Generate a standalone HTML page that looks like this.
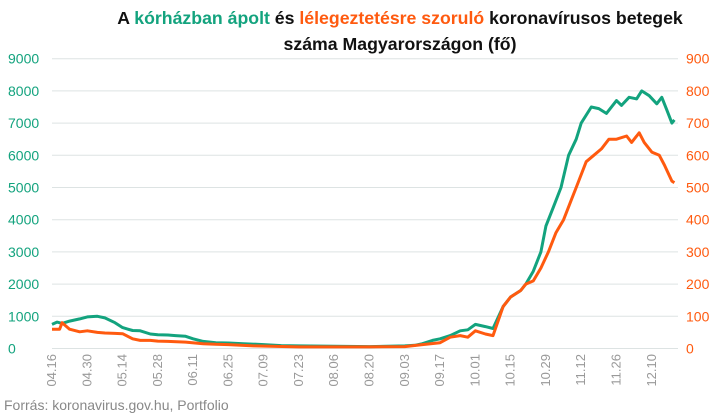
<!DOCTYPE html>
<html><head><meta charset="utf-8"><style>
body{margin:0;background:#fff;}
svg{display:block;font-family:"Liberation Sans Narrow","Liberation Sans",sans-serif;}
</style></head><body>
<svg id="chart" width="717" height="416" viewBox="0 0 717 416">
<text x="400" y="24" text-anchor="middle" font-size="17.7" font-weight="bold" fill="#111">A <tspan fill="#13a37e">kórházban ápolt</tspan> és <tspan fill="#ff5a0f">lélegeztetésre szoruló</tspan> koronavírusos betegek</text>
<text x="400" y="50" text-anchor="middle" font-size="17.7" font-weight="bold" fill="#111">száma Magyarországon  (fő)</text>
<g id="grid"></g><g id="series"></g><g id="axes"></g>
<text x="4" y="410" font-size="14" fill="#888">Forrás: koronavirus.gov.hu, Portfolio</text>
</svg>
<script>
const hospDates=["04.16","04.18","04.20","04.23","04.27","04.30","05.04","05.07","05.11","05.14","05.18","05.21","05.25","05.28","06.01","06.04","06.08","06.11","06.15","06.20","06.25","07.01","07.09","07.16","07.23","08.06","08.20","09.03","09.07","09.10","09.14","09.17","09.21","09.25","09.28","10.01","10.05","10.08","10.12","10.15","10.19","10.21","10.24","10.27","10.29","11.01","11.04","11.07","11.10","11.12","11.16","11.19","11.22","11.26","11.28","12.01","12.04","12.06","12.09","12.12","12.14","12.16","12.18","12.19"];
const hospValues=[750,820,780,850,920,980,1000,950,800,650,560,550,450,430,420,400,380,300,220,180,170,150,120,90,80,70,60,80,100,150,250,300,400,550,580,750,680,620,1300,1600,1800,2000,2400,3000,3800,4400,5000,6000,6500,7000,7500,7450,7300,7700,7550,7800,7750,8000,7850,7600,7800,7400,7000,7100];
const ventDates=["04.16","04.19","04.20","04.23","04.27","04.30","05.04","05.07","05.11","05.14","05.18","05.21","05.25","05.28","06.01","06.08","06.15","06.20","06.25","07.05","07.23","08.20","09.03","09.10","09.17","09.21","09.25","09.28","10.01","10.05","10.08","10.12","10.15","10.19","10.21","10.24","10.27","10.30","11.02","11.05","11.08","11.10","11.14","11.17","11.20","11.23","11.26","11.30","12.02","12.05","12.07","12.10","12.13","12.15","12.18","12.19"];
const ventValues=[60,60,80,60,52,55,50,48,47,46,30,25,25,23,22,20,15,13,12,8,5,5,6,12,18,35,40,35,55,45,40,130,160,180,200,210,250,300,360,400,460,500,580,600,620,650,650,660,640,670,640,610,600,570,520,515];
const leftTicks=[0,1000,2000,3000,4000,5000,6000,7000,8000,9000];
const rightTicks=[0,100,200,300,400,500,600,700,800,900];
const xTickLabels=["04.16","04.30","05.14","05.28","06.11","06.25","07.09","07.23","08.06","08.20","09.03","09.17","10.01","10.15","10.29","11.12","11.26","12.10"];

const NS="http://www.w3.org/2000/svg";
const X0=52,PXD=2.52,Y0=348.5,PX1000=32.2;
function day(s){const[m,d]=s.split(".").map(Number);return (Date.UTC(2020,m-1,d)-Date.UTC(2020,3,16))/864e5;}
function xs(s){return X0+day(s)*PXD;}
function yl(v){return Y0-v/1000*PX1000;}
function yr(v){return Y0-v/100*PX1000;}
function mk(t,a,p){const e=document.createElementNS(NS,t);for(const k in a)e.setAttribute(k,a[k]);p.appendChild(e);return e;}
const grid=document.getElementById("grid"),axes=document.getElementById("axes"),ser=document.getElementById("series");
leftTicks.forEach((v,i)=>{
 const l=mk("line",{x1:X0,x2:678,y1:yl(v),y2:yl(v),stroke:"#dde3e3","stroke-width":1},grid);
 
 
 const t=mk("text",{x:8,y:yl(v)+5,"font-size":14,fill:"#13a37e"},axes);t.textContent=v;
 
 
 const r=mk("text",{x:686,y:yr(rightTicks[i])+5,"font-size":14,fill:"#ff5a0f"},axes);r.textContent=rightTicks[i];
 
 
});
xTickLabels.forEach(s=>{
 const x=xs(s)+4;
 const t=mk("text",{x:x,y:354,"font-size":13,fill:"#999","text-anchor":"end",transform:`rotate(-90 ${x} 354)`},axes);t.textContent=s;
 
 
});
function line(ds,vs,f,c,n){
 const d=ds.map((s,i)=>(i?"L":"M")+xs(s).toFixed(1)+","+f(vs[i]).toFixed(1)).join("");
 const p=mk("path",{d:d,fill:"none",stroke:c,"stroke-width":3,"stroke-linejoin":"round"},ser);
 
 
}
line(hospDates,hospValues,yl,"#13a37e","hospitalized-line");
line(ventDates,ventValues,yr,"#ff5a0f","ventilated-line");
</script>
</body></html>
